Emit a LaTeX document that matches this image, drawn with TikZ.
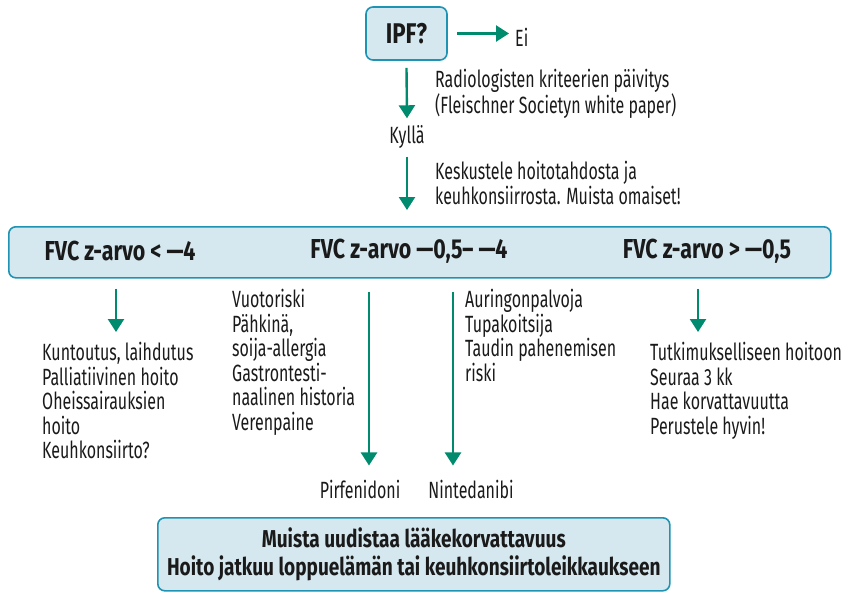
\documentclass[tikz,border=0pt]{standalone}
\usepackage{fontspec}
\setmainfont{Fira Sans}[FakeStretch=0.68, BoldFeatures={FakeStretch=0.78}]
\usetikzlibrary{arrows.meta,positioning,calc}
\definecolor{boxfill}{HTML}{D6E8EF}
\definecolor{boxline}{HTML}{1E93B3}
\definecolor{arr}{HTML}{008A6E}
\definecolor{txt}{HTML}{1A1A1A}
\tikzset{
  infobox/.style={draw=boxline, fill=boxfill, line width=1.6pt, rounded corners=7pt, text=txt, font=\bfseries\fontsize{24.4}{28}\selectfont, align=center, inner sep=0pt},
  lbl/.style={text=txt, font=\fontsize{23.5}{24.5}\selectfont, align=left, inner sep=0pt},
  boldlbl/.style={text=txt, font=\bfseries\fontsize{27.4}{28}\selectfont, inner sep=0pt},
  flow/.style={draw=arr, line width=2.4pt, -{Triangle[width=16pt,length=13pt]}}
}
\begin{document}
\begin{tikzpicture}[x=1pt,y=-1pt]
\useasboundingbox (0,0) rectangle (846,594);
% top box
\node[infobox, minimum width=81pt, minimum height=53pt, font=\bfseries\fontsize{28.5}{32}\selectfont] (ipf) at (406.5,33.5) {IPF?};
\node[lbl, anchor=west] (ei) at (515,37) {Ei};
\draw[flow] ($(ipf.east)+(9,0)$) -- ($(ipf.east -| ei.west)+(-6,0)$);
% kylla
\node[lbl] (kylla) at (407,137) {Kyllä};
\node[lbl, anchor=north west] (rad) at (435,69) {Radiologisten kriteerien päivitys\\(Fleischner Societyn white paper)};
\draw[flow] ($(ipf.south)+(0,7)$) -- ($(kylla.north)+(0,-7)$);
% wide box
\node[infobox, minimum width=822pt, minimum height=51pt, anchor=north west] (fvc) at (8,226) {};
\node[boldlbl] (f1) at (120,251) {FVC z-arvo < —4};
\node[boldlbl] (f2) at (409,251) {FVC z-arvo —0,5– —4};
\node[boldlbl] (f3) at (707,251) {FVC z-arvo > —0,5};
\node[lbl, anchor=north west] (kes) at (435,161) {Keskustele hoitotahdosta ja\\keuhkonsiirrosta. Muista omaiset!};
\coordinate (ka) at (407,0);
\draw[flow] ($(kylla.south -| ka)+(0,8)$) -- ($(fvc.north -| ka)+(0,-16)$);
% left column
\node[lbl, anchor=north west] (left) at (42,342) {Kuntoutus, laihdutus\\Palliatiivinen hoito\\Oheissairauksien\\hoito\\Keuhkonsiirto?};
\coordinate (la) at (116,0);
\draw[flow] ($(fvc.south -| la)+(0,10)$) -- ($(left.north -| la)+(0,-10)$);
% middle
\node[lbl, anchor=north west] (mid1) at (232,289) {Vuotoriski\\Pähkinä,\\soija-allergia\\Gastrontesti-\\naalinen historia\\Verenpaine};
\node[lbl, anchor=north west] (mid2) at (465,289) {Auringonpalvoja\\Tupakoitsija\\Taudin pahenemisen\\riski};
\node[lbl] (pirf) at (360,489) {Pirfenidoni};
\node[lbl] (nint) at (471,489) {Nintedanibi};
\coordinate (pa) at (369,0);
\coordinate (na) at (453,0);
\draw[flow] ($(fvc.south -| pa)+(0,13)$) -- ($(pirf.north -| pa)+(0,-14)$);
\draw[flow] ($(fvc.south -| na)+(0,13)$) -- ($(nint.north -| na)+(0,-14)$);
% right column
\node[lbl, anchor=north west] (right) at (650,342) {Tutkimukselliseen hoitoon\\Seuraa 3 kk\\Hae korvattavuutta\\Perustele hyvin!};
\coordinate (ra) at (698,0);
\draw[flow] ($(fvc.south -| ra)+(0,10)$) -- ($(right.north -| ra)+(0,-10)$);
% bottom box
\node[infobox, minimum width=512pt, minimum height=73pt, anchor=north west] (bot) at (157,517) {Muista uudistaa lääkekorvattavuus\\Hoito jatkuu loppuelämän tai keuhkonsiirtoleikkaukseen};
\end{tikzpicture}
\end{document}
